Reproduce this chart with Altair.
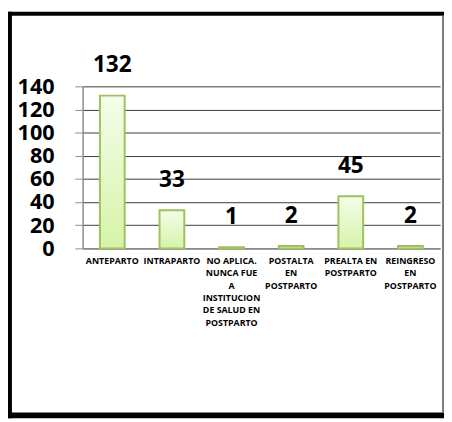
import altair as alt
import pandas as pd

categories = [
    "ANTEPARTO",
    "INTRAPARTO",
    "NO APLICA.|NUNCA FUE|A|INSTITUCION|DE SALUD EN|POSTPARTO",
    "POSTALTA|EN|POSTPARTO",
    "PREALTA EN|POSTPARTO",
    "REINGRESO|EN|POSTPARTO",
]
values = [132, 33, 1, 2, 45, 2]
y_ticks = [0, 20, 40, 60, 80, 100, 120, 140]

FONT = "Open Sans"

df = pd.DataFrame({"cat": categories, "val": values})

gradient = alt.Gradient(
    gradient="linear",
    stops=[
        alt.GradientStop(color="#f4fde9", offset=0),
        alt.GradientStop(color="#d6f3a8", offset=1),
    ],
    x1=0, x2=0, y1=0, y2=1,
)

x_axis = alt.Axis(
    title=None,
    labelAngle=0,
    labelExpr="split(datum.label, '|')",
    labelFont=FONT,
    labelFontSize=9,
    labelFontWeight="bold",
    labelColor="black",
    labelLineHeight=12.7,
    labelPadding=8,
    labelBaseline="top",
    labelLimit=80,
    labelOverlap=False,
    ticks=False,
    domainColor="#8c8c8c",
    domainWidth=1.5,
    grid=False,
)
x_scale = alt.Scale(paddingInner=0.585, paddingOuter=0.29)

y_axis = alt.Axis(
    title=None,
    values=y_ticks,
    tickCount=8,
    labelFont=FONT,
    labelFontSize=22,
    labelFontWeight="bold",
    labelColor="black",
    labelPadding=21,
    labelOverlap=False,
    labelFlush=False,
    labelBound=False,
    tickSize=8,
    tickColor="#8c8c8c",
    domainColor="#8c8c8c",
    domainWidth=1.5,
    gridColor="#3a3a3a",
    gridWidth=1,
)
y_scale = alt.Scale(domain=[0, 140], nice=False)

bars = alt.Chart(df).mark_bar(
    color=gradient, stroke="#9dc25c", strokeWidth=2
).encode(
    x=alt.X("cat:N", sort=categories, scale=x_scale, axis=x_axis),
    y=alt.Y("val:Q", scale=y_scale, axis=y_axis),
)

text = alt.Chart(df).mark_text(
    font=FONT, fontSize=23, fontWeight="bold", color="black",
    baseline="alphabetic", dy=-24,
).encode(
    x=alt.X("cat:N", sort=categories, scale=x_scale, axis=x_axis),
    y=alt.Y("val:Q", scale=y_scale, axis=y_axis),
    text="val:Q",
)

one = pd.DataFrame({"a": [0]})
frame_left = alt.Chart(one).mark_rect(color="black").encode(
    x=alt.value(-76), x2=alt.value(-72), y=alt.value(-76), y2=alt.value(338)
)
frame_top = alt.Chart(one).mark_rect(color="black").encode(
    x=alt.value(-76), x2=alt.value(368), y=alt.value(-76), y2=alt.value(-72)
)
frame_bottom = alt.Chart(one).mark_rect(color="black").encode(
    x=alt.value(-76), x2=alt.value(368), y=alt.value(332), y2=alt.value(338)
)
frame_right = alt.Chart(one).mark_rect(color="#7a7a7a").encode(
    x=alt.value(366), x2=alt.value(368), y=alt.value(-72), y2=alt.value(332)
)

chart = alt.layer(
    bars, text, frame_left, frame_top, frame_bottom, frame_right
).properties(
    width=364,
    height=165,
    padding={"left": 76, "top": 76, "right": 4, "bottom": 173},
    autosize=alt.AutoSizeParams(type="none"),
    background="white",
).configure_view(stroke=None)

chart.save("out.html", embed_options={"renderer": "svg", "actions": False})
